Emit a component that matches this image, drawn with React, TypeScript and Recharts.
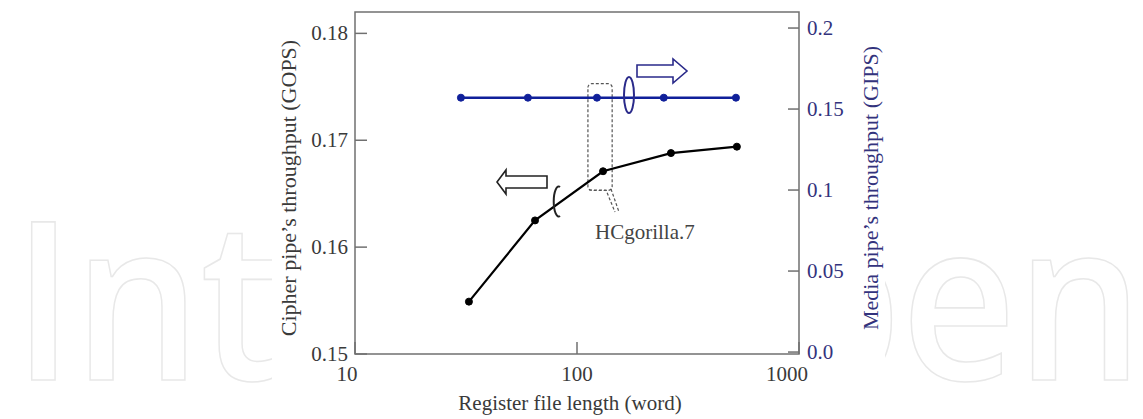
import React from 'react';
import { ComposedChart, Line, XAxis, YAxis, ReferenceArea, Label } from 'recharts';

// ---- data ----
const cipherLengths = [32.6, 64.7, 131, 265, 525];
const cipherThroughput = [0.1549, 0.1625, 0.1671, 0.1688, 0.1694];
const mediaLengths = [30, 60.1, 123, 246, 520];
const mediaThroughput = [0.157, 0.157, 0.157, 0.157, 0.157];

const xTicks = [10, 100, 1000];
const xTickLabels = ['10', '100', '1000'];
const leftTicks = [0.15, 0.16, 0.17, 0.18];
const leftTickLabels = ['0.15', '0.16', '0.17', '0.18'];
const rightTicks = [0, 0.05, 0.1, 0.15, 0.2];
const rightTickLabels = ['0.0', '0.05', '0.1', '0.15', '0.2'];

const calloutLabel = 'HCgorilla.7';
const calloutX = [112, 144];
const calloutY = [0.1653, 0.1753];

const cipherData = cipherLengths.map((x, i) => ({ x, y: cipherThroughput[i] }));
const mediaData = mediaLengths.map((x, i) => ({ x, y: mediaThroughput[i] }));

const SERIF = "'Liberation Serif', 'Times New Roman', Tinos, 'DejaVu Serif', 'Noto Serif', serif";
const serifStyle = { fontFamily: SERIF };
const FRAME = '#707070';
const NAVY_TEXT = '#33337d';
const BLUE = '#10209a';

const LeftTick = (props: any) => {
  const { x, y, payload, index } = props;
  const ax = x + 7;
  return (
    <g>
      <line x1={ax} x2={ax + 12} y1={y} y2={y} stroke={FRAME} strokeWidth={1.5} />
      <text x={x} y={y} dy={7} textAnchor="end" style={serifStyle} fontSize={21} fill="#3a3a3a">
        {leftTickLabels[leftTicks.indexOf(payload.value)] ?? leftTickLabels[index]}
      </text>
    </g>
  );
};

const RightTick = (props: any) => {
  const { x, y, payload, index } = props;
  const ax = x - 8;
  return (
    <g>
      <line x1={ax - 11} x2={ax} y1={y} y2={y} stroke={FRAME} strokeWidth={1.5} />
      <text x={x} y={y} dy={7} textAnchor="start" style={serifStyle} fontSize={21} fill={NAVY_TEXT}>
        {rightTickLabels[rightTicks.indexOf(payload.value)] ?? rightTickLabels[index]}
      </text>
    </g>
  );
};

const BottomTick = (props: any) => {
  const { x, y, payload, index } = props;
  const i = xTicks.indexOf(payload.value);
  const dx = i === 0 ? -8 : i === 2 ? -12 : 0;
  return (
    <g>
      <line x1={x} x2={x} y1={y} y2={y - 12} stroke={FRAME} strokeWidth={1.5} />
      <text x={x + dx} y={y} dy={27} textAnchor="middle" style={serifStyle} fontSize={21} fill="#3a3a3a">
        {xTickLabels[i] ?? xTickLabels[index]}
      </text>
    </g>
  );
};

export default function App() {
  return (
    <div style={{ position: 'absolute', left: 0, top: 0, width: 1143, height: 419, background: '#fff' }}>
      {/* watermark */}
      <svg width={1143} height={419} style={{ position: 'absolute', left: 0, top: 0 }}>
        <text
          x={13}
          y={380}
          style={{ fontFamily: "'Open Sans', sans-serif" }}
          fontWeight={600}
          fontSize={222}
          fill="none"
          stroke="#e8e8e8"
          strokeWidth={1.6}
          textLength={1130}
          lengthAdjust="spacingAndGlyphs"
        >
          IntechOpen
        </text>
        <rect x={272} y={0} width={613} height={419} fill="#fff" />
      </svg>
      <div style={{ position: 'absolute', left: 0, top: 0 }}>
        <ComposedChart width={1143} height={419} margin={{ top: 12, right: 0, bottom: 0, left: 0 }}>
          <XAxis
            dataKey="x"
            type="number"
            scale="log"
            domain={[10, 1000]}
            ticks={xTicks}
            allowDataOverflow
            height={65}
            axisLine={false}
            tickLine={false}
            tickSize={0}
            tickMargin={0}
            interval={0}
            tick={<BottomTick />}
          >
            <Label
              content={(p: any) => {
                const vb = p.viewBox;
                return (
                  <text
                    x={vb.x + vb.width / 2 - 7}
                    y={vb.y + 56}
                    textAnchor="middle"
                    style={serifStyle}
                    fontSize={21}
                    fill="#3a3a3a"
                  >
                    Register file length (word)
                  </text>
                );
              }}
            />
          </XAxis>
          <YAxis
            yAxisId="left"
            type="number"
            domain={[0.15, 0.182]}
            ticks={leftTicks}
            allowDataOverflow
            width={355}
            axisLine={false}
            tickLine={false}
            tickSize={0}
            tickMargin={7}
            interval={0}
            tick={<LeftTick />}
          >
            <Label
              content={(p: any) => {
                const vb = p.viewBox;
                const cx = vb.x + vb.width - 67;
                const cy = vb.y + vb.height / 2 + 5;
                return (
                  <text
                    x={cx}
                    y={cy}
                    transform={`rotate(-90, ${cx}, ${cy})`}
                    textAnchor="middle"
                    dominantBaseline="central"
                    style={serifStyle}
                    fontSize={22}
                    fill="#3a3a3a"
                  >
                    Cipher pipe’s throughput (GOPS)
                  </text>
                );
              }}
            />
          </YAxis>
          <YAxis
            yAxisId="right"
            orientation="right"
            type="number"
            domain={[-0.0012, 0.2099]}
            ticks={rightTicks}
            allowDataOverflow
            width={344}
            axisLine={false}
            tickLine={false}
            tickSize={0}
            tickMargin={8}
            interval={0}
            tick={<RightTick />}
          >
            <Label
              content={(p: any) => {
                const vb = p.viewBox;
                const cx = vb.x + 71;
                const cy = vb.y + vb.height / 2 + 5;
                return (
                  <text
                    x={cx}
                    y={cy}
                    transform={`rotate(-90, ${cx}, ${cy})`}
                    textAnchor="middle"
                    dominantBaseline="central"
                    style={serifStyle}
                    fontSize={22}
                    fill={NAVY_TEXT}
                  >
                    Media pipe’s throughput (GIPS)
                  </text>
                );
              }}
            />
          </YAxis>
          <ReferenceArea
            yAxisId="left"
            x1={10}
            x2={1000}
            y1={0.15}
            y2={0.182}
            fill="none"
            stroke={FRAME}
            strokeWidth={1.5}
            ifOverflow="visible"
          />
          <ReferenceArea
            yAxisId="left"
            x1={calloutX[0]}
            x2={calloutX[1]}
            y1={calloutY[0]}
            y2={calloutY[1]}
            fill="none"
            stroke="#555"
            strokeWidth={1.2}
            strokeDasharray="3 2"
            radius={4}
            ifOverflow="visible"
          />
          <Line
            yAxisId="right"
            data={mediaData}
            dataKey="y"
            stroke={BLUE}
            strokeWidth={2.5}
            dot={{ r: 3.5, fill: BLUE, stroke: BLUE, strokeWidth: 1 }}
            isAnimationActive={false}
          />
          <Line
            yAxisId="left"
            data={cipherData}
            dataKey="y"
            stroke="#000"
            strokeWidth={2.2}
            dot={{ r: 3.5, fill: '#000', stroke: '#000', strokeWidth: 1 }}
            isAnimationActive={false}
          />
        </ComposedChart>
      </div>
      {/* annotations */}
      <svg width={1143} height={419} style={{ position: 'absolute', left: 0, top: 0, pointerEvents: 'none' }}>
        <polygon
          points="637,65 673,65 673,59 687,71 673,83 673,77 637,77"
          fill="#fff"
          stroke="#2a2a8a"
          strokeWidth={1.6}
        />
        <ellipse cx={629} cy={95} rx={5} ry={18} fill="none" stroke="#2a2a8a" strokeWidth={2} />
        <polygon
          points="547,176 506,176 506,170 497,182 506,194 506,188 547,188"
          fill="#fff"
          stroke="#222"
          strokeWidth={1.6}
        />
        <path d="M560 187 A5 15 0 1 0 560 216" fill="none" stroke="#222" strokeWidth={2} />
        <path d="M589 190 L606 190 L615 212 M611 189 L619 212" fill="none" stroke="#555" strokeWidth={1.2} strokeDasharray="3 2" />
        <text x={595} y={239} style={serifStyle} fontSize={21} fill="#444">
          {calloutLabel}
        </text>
      </svg>
    </div>
  );
}
